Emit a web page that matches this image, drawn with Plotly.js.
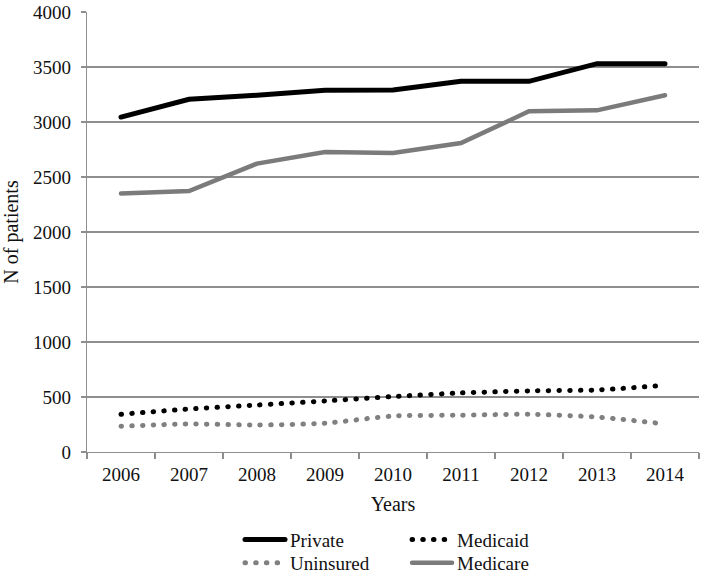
<!DOCTYPE html>
<html>
<head>
<meta charset="utf-8">
<script src="https://cdn.plot.ly/plotly-3.0.1.min.js"></script>
<style>
  html, body { margin: 0; padding: 0; background: #fff; }
  #chart { width: 703px; height: 577px; }
  #chart text { font-family: "Liberation Serif", "Times New Roman", serif !important; }
  .js-line { stroke-linecap: round !important; }
</style>
</head>
<body>
<div id="chart"></div>
<script>
const years = ['2006', '2007', '2008', '2009', '2010', '2011', '2012', '2013', '2014'];
const privateVals   = [3045, 3206, 3243, 3288, 3292, 3370, 3370, 3530, 3530];
const medicaidVals  = [343, 391, 427, 464, 504, 537, 555, 564, 606];
const uninsuredVals = [234, 255, 245, 262, 327, 334, 343, 318, 255];
const medicareVals  = [2349, 2373, 2622, 2727, 2718, 2809, 3097, 3106, 3243];
const yTicks = [0, 500, 1000, 1500, 2000, 2500, 3000, 3500, 4000];

const FONT = '"Liberation Serif", "Times New Roman", serif';
const GRID = '#8e8e8e';
const DOTS = '0.5px,10.2px';

const traces = [
  { x: years, y: privateVals, name: 'Private', type: 'scatter', mode: 'lines',
    line: { color: '#000000', width: 5 }, legend: 'legend' },
  { x: years, y: medicaidVals, name: 'Medicaid', type: 'scatter', mode: 'lines',
    line: { color: '#000000', width: 5, dash: DOTS, shape: 'spline', smoothing: 0.6 }, legend: 'legend2' },
  { x: years, y: uninsuredVals, name: 'Uninsured', type: 'scatter', mode: 'lines',
    line: { color: '#808080', width: 5, dash: DOTS, shape: 'spline', smoothing: 0.6 }, legend: 'legend3' },
  { x: years, y: medicareVals, name: 'Medicare', type: 'scatter', mode: 'lines',
    line: { color: '#7b7b7b', width: 4.5 }, legend: 'legend4' }
];

function leg(x, y) {
  return {
    orientation: 'v', xanchor: 'left', x: x, yanchor: 'middle', y: y,
    font: { family: FONT, size: 19, color: '#111' },
    itemwidth: 40,
    bgcolor: 'rgba(0,0,0,0)', borderwidth: 0
  };
}

const layout = {
  width: 703, height: 577,
  margin: { l: 87, r: 4, t: 12, b: 125, autoexpand: false },
  paper_bgcolor: '#ffffff', plot_bgcolor: '#ffffff',
  font: { family: FONT, size: 19, color: '#111' },
  showlegend: true,
  xaxis: {
    type: 'category', range: [-0.5, 8.5],
    showgrid: false, zeroline: false,
    showline: true, linecolor: GRID, linewidth: 1.3,
    ticks: 'outside', tickson: 'boundaries', ticklen: 6, tickcolor: GRID, tickwidth: 1.3,
    ticklabelstandoff: 5,
    tickfont: { family: FONT, size: 19, color: '#111' },
    title: { text: 'Years', font: { family: FONT, size: 20, color: '#111' }, standoff: 13 },
    fixedrange: true
  },
  yaxis: {
    range: [0, 4000], tickvals: yTicks, ticktext: yTicks.map(String),
    showgrid: true, gridcolor: GRID, gridwidth: 1.3,
    zeroline: false, showline: true, linecolor: GRID, linewidth: 1.3,
    ticks: 'outside', ticklen: 5, tickcolor: GRID, tickwidth: 1.3,
    ticklabelstandoff: 6,
    tickfont: { family: FONT, size: 19, color: '#111' },
    title: { text: 'N of patients', font: { family: FONT, size: 20, color: '#111' }, standoff: 11 },
    fixedrange: true
  },
  legend:  leg(0.25, -0.199),
  legend2: leg(0.523, -0.199),
  legend3: leg(0.25, -0.252),
  legend4: leg(0.523, -0.252)
};

Plotly.newPlot('chart', traces, layout, { displayModeBar: false, staticPlot: true });
</script>
</body>
</html>
